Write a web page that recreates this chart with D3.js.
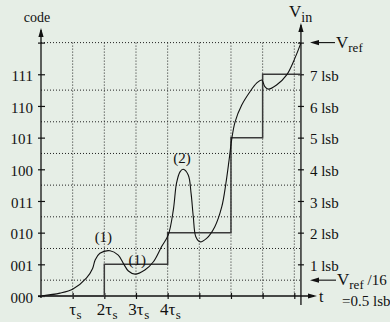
<!DOCTYPE html>
<html>
<head>
<meta charset="utf-8">
<script src="https://cdn.jsdelivr.net/npm/d3@7"></script>
<style>
  html, body { margin: 0; padding: 0; background: #e6eee6; }
  svg { display: block; }
  svg text { font-family: 'Liberation Serif', 'DejaVu Serif', serif; }
</style>
</head>
<body>
<script>
// ADC staircase: codes on the left, input voltage on the right, time along the bottom
var codes = ["000", "001", "010", "011", "100", "101", "110", "111"];
var lsbLabels = ["1 lsb", "2 lsb", "3 lsb", "4 lsb", "5 lsb", "6 lsb", "7 lsb"];
var timeTicks = [1, 2, 3, 4];
var timeTickMain = ["\u03c4", "2\u03c4", "3\u03c4", "4\u03c4"];

// output code steps (time in tau_s, level in lsb)
var stepT = [0, 2, 4, 6, 7, 8.21];
var stepV = [0, 1, 2, 5, 7, 7];

// input voltage curve
var vinT = [0, 0.6, 1.01, 1.44, 1.63, 1.71, 1.86, 2.18, 2.44, 2.6, 2.76, 2.97, 3.28, 3.55, 3.81, 4.02,
            4.18, 4.28, 4.39, 4.49, 4.65, 4.74, 4.81, 4.89, 5.02, 5.23, 5.49, 5.71, 5.84, 5.94, 6.03,
            6.13, 6.34, 6.6, 6.81, 6.97, 7.07, 7.18, 7.44, 7.76, 8.02, 8.21];
var vinV = [0, 0.09, 0.22, 0.57, 0.87, 1.14, 1.35, 1.43, 1.29, 1.03, 0.79, 0.69, 0.82, 1.08, 1.56, 1.93,
            2.72, 3.56, 3.92, 4.0, 3.82, 3.24, 2.5, 1.87, 1.71, 1.82, 2.19, 2.82, 3.56, 4.29, 4.99,
            5.5, 6.03, 6.45, 6.72, 6.82, 6.61, 6.53, 6.66, 6.98, 7.51, 7.99];

var width = 390, height = 322;
var svg = d3.select("body").append("svg")
  .attr("width", width)
  .attr("height", height);

svg.append("rect").attr("width", width).attr("height", height).attr("fill", "#e6eee6");

var x = d3.scaleLinear().domain([0, 8]).range([41, 294.3]);
var y = d3.scaleLinear().domain([0, 8]).range([296, 42.6]);
var tEnd = 8.21;
var ink = "#111";

// dotted grid
var gridV = d3.range(1, 9);
var gridH = [0.5, 1.5, 2.5, 3.5, 4.5, 5.5, 6.5, 8];
svg.append("g").selectAll("line").data(gridV).join("line")
  .attr("x1", d => x(d)).attr("x2", d => x(d))
  .attr("y1", y(8)).attr("y2", y(0))
  .attr("stroke", "#222").attr("stroke-width", 1)
  .attr("stroke-dasharray", "1,2");
svg.append("g").selectAll("line").data(gridH).join("line")
  .attr("x1", x(0)).attr("x2", x(tEnd))
  .attr("y1", d => y(d)).attr("y2", d => y(d))
  .attr("stroke", "#222").attr("stroke-width", 1)
  .attr("stroke-dasharray", "1,2");

// arrow head helper (tip at x,y pointing in direction dx,dy)
function arrowHead(px, py, dx, dy) {
  var L = 9, w = 2.6;
  var bx = px - dx * L, by = py - dy * L;
  svg.append("path")
    .attr("d", "M" + px + "," + py + "L" + (bx - dy * w) + "," + (by + dx * w) +
      "L" + (bx + dy * w) + "," + (by - dx * w) + "Z")
    .attr("fill", ink);
}

// axes with the library, then tidied
var leftAxis = svg.append("g")
  .attr("transform", "translate(" + x(0) + ",0)")
  .call(d3.axisLeft(y).tickValues(d3.range(0, 9)).tickFormat(d => codes[d] || "").tickSizeOuter(0));
var rightAxis = svg.append("g")
  .attr("transform", "translate(" + x(tEnd) + ",0)")
  .call(d3.axisRight(y).tickValues(d3.range(1, 9)).tickFormat(d => lsbLabels[d - 1] || "").tickSizeOuter(0));
var bottomAxis = svg.append("g")
  .attr("transform", "translate(0," + y(0) + ")")
  .call(d3.axisBottom(x).tickValues(gridV).tickFormat("").tickSizeOuter(0));

[leftAxis, rightAxis, bottomAxis].forEach(function(g) {
  g.attr("font-family", null).attr("font-size", 15);
  g.select(".domain").remove();
  g.selectAll(".tick line").attr("stroke", ink).attr("stroke-width", 1.2);
  g.selectAll(".tick text").attr("fill", ink);
});
leftAxis.selectAll(".tick line").attr("x1", -3).attr("x2", 4);
leftAxis.selectAll(".tick text").attr("x", -8).attr("dy", "0.42em");
rightAxis.selectAll(".tick line").attr("x1", -3).attr("x2", 3);
rightAxis.selectAll(".tick text").attr("x", 9).attr("dy", "0.42em");
bottomAxis.selectAll(".tick line").attr("y1", -3).attr("y2", 3);

// axis lines
svg.append("line").attr("x1", x(0)).attr("x2", x(0)).attr("y1", y(0) + 2).attr("y2", 30)
  .attr("stroke", ink).attr("stroke-width", 1.3);
arrowHead(x(0), 28, 0, -1);
svg.append("line").attr("x1", x(tEnd)).attr("x2", x(tEnd)).attr("y1", y(0) + 9).attr("y2", 25)
  .attr("stroke", ink).attr("stroke-width", 1.3);
arrowHead(x(tEnd), 23, 0, -1);
svg.append("line").attr("x1", x(0) - 3).attr("x2", 314).attr("y1", y(0)).attr("y2", y(0))
  .attr("stroke", ink).attr("stroke-width", 1.3);
arrowHead(317, y(0), 1, 0);

// staircase
var steps = stepT.map((t, i) => ({t: t, v: stepV[i]}));
svg.append("path")
  .attr("d", d3.line().x(d => x(d.t)).y(d => y(d.v)).curve(d3.curveStepAfter)(steps))
  .attr("fill", "none").attr("stroke", "#3a3a3a").attr("stroke-width", 1.5);

// input curve
var vin = vinT.map((t, i) => ({t: t, v: vinV[i]}));
svg.append("path")
  .attr("d", d3.line().x(d => x(d.t)).y(d => y(d.v)).curve(d3.curveCatmullRom.alpha(0.5))(vin))
  .attr("fill", "none").attr("stroke", ink).attr("stroke-width", 1.1);

// text
function txt(px, py, s, size, anchor) {
  return svg.append("text").attr("x", px).attr("y", py).attr("fill", ink)
    .attr("text-anchor", anchor || "start").attr("font-size", size).text(s);
}
txt(37, 22, "code", 14, "middle");

var vinLbl = txt(289, 17, "V", 17);
vinLbl.append("tspan").attr("dy", 5).attr("font-size", 14).text("in");

// Vref arrow
svg.append("line").attr("x1", 316).attr("x2", 335).attr("y1", y(8)).attr("y2", y(8))
  .attr("stroke", ink).attr("stroke-width", 1.1);
arrowHead(310, y(8), -1, 0);
var vref = txt(336, y(8) + 5, "V", 17);
vref.append("tspan").attr("dy", 4).attr("font-size", 13).text("ref");

// Vref/16 arrow
svg.append("line").attr("x1", 316).attr("x2", 336).attr("y1", y(0.5)).attr("y2", y(0.5))
  .attr("stroke", ink).attr("stroke-width", 1.1);
arrowHead(310, y(0.5), -1, 0);
var vr16 = txt(337, y(0.5) + 5, "V", 17);
vr16.append("tspan").attr("dy", 4).attr("font-size", 13).text("ref");
vr16.append("tspan").attr("dy", -4).attr("font-size", 15).text(" /16");
txt(342, 306, "=0.5 lsb", 15);

txt(319, 302, "t", 16);

// time tick labels: main part centred on the tick, subscript after
timeTicks.forEach(function(t, i) {
  var m = txt(x(t), 315, timeTickMain[i], 17, "middle");
  var w = m.node().getComputedTextLength();
  txt(x(t) + w / 2 + 0.5, 319, "s", 13);
});

// annotations
txt(x(1.97), y(1.7), "(1)", 15, "middle");
txt(x(3.04), y(0.97), "(1)", 15, "middle");
txt(x(4.45), y(4.2), "(2)", 15, "middle");
</script>
</body>
</html>
